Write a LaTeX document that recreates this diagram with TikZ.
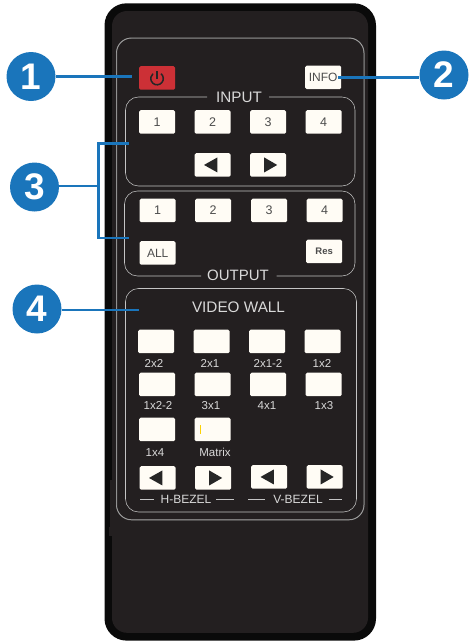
\documentclass[tikz,border=0pt]{standalone}
\usepackage{fontspec}
\setmainfont{Liberation Sans}
\definecolor{bodyin}{HTML}{231F20}
\definecolor{bodyout}{HTML}{0A0A0A}
\definecolor{badge}{HTML}{1A75BB}
\definecolor{btn}{HTML}{FFFCF5}
\definecolor{pwr}{HTML}{CC3036}
\definecolor{frame}{HTML}{C4C4C4}
\tikzset{
  btnbox/.style={fill=btn,rounded corners=1.5pt,minimum width=36pt,minimum height=23.5pt,inner sep=0pt,text=black!70,font=\fontsize{12.5}{13}\selectfont,anchor=north west},
  silk/.style={text=white!85!black,inner sep=0pt,font=\fontsize{11.5}{12}\selectfont},
  panel/.style={draw=frame,line width=0.55pt,rounded corners=13pt},
  badgec/.style={circle,fill=badge,minimum size=49pt,inner sep=0pt,text=white,font=\fontsize{37}{37}\selectfont\bfseries},
  lead/.style={draw=badge,line width=2.6pt},
  tri/.style={fill=black!85,draw=none}
}
\newcommand{\arrowL}[3]{\node[btnbox] (#1) at (#2,#3) {};
  \fill[tri] ([xshift=-8.7pt]#1.center) -- ([xshift=4.7pt,yshift=7.5pt]#1.center) -- ([xshift=4.7pt,yshift=-7.5pt]#1.center) -- cycle;}
\newcommand{\arrowR}[3]{\node[btnbox] (#1) at (#2,#3) {};
  \fill[tri] ([xshift=9pt]#1.center) -- ([xshift=-4pt,yshift=7.5pt]#1.center) -- ([xshift=-4pt,yshift=-7.5pt]#1.center) -- cycle;}
\begin{document}
\begin{tikzpicture}[x=1pt,y=-1pt]
\useasboundingbox (0,0) rectangle (469,643);
% body
\fill[bodyout,rounded corners=22pt] (104.5,3.3) rectangle (376,640.6);
\fill[bodyin,rounded corners=15pt] (112,11) rectangle (368,632.8);
\fill[bodyin] (110,480) rectangle (113,536);
\fill[bodyin] (108.5,527) rectangle (113,536);
% outer frame
\draw[black!48,line width=1pt,rounded corners=15pt] (116.5,38) rectangle (364,519.8);
\draw[frame!85!black,line width=0.4pt,rounded corners=15pt] (116.5,38) rectangle (364,519.8);
% input panel
\node[silk,font=\fontsize{15.2}{16}\selectfont] (intitle) at (239,97) {INPUT};
\draw[panel] (207,97) -- (125.5,97) -- (125.5,186) -- (355,186) -- (355,97) -- (269,97);
% output panel
\node[silk,font=\fontsize{15}{16}\selectfont] (outtitle) at (238,275) {OUTPUT};
\draw[panel] (201,276) -- (124.5,276) -- (124.5,191) -- (355,191) -- (355,276) -- (276.5,276);
% video wall panel
\draw[panel] (125.5,288.5) rectangle (356.5,512);
\node[silk,font=\fontsize{15.3}{16}\selectfont] (vwtitle) at (238.5,307) {VIDEO WALL};
% power and info
\node[btnbox,fill=pwr] (power) at (139,66) {};
\draw[black!85,line width=1.5pt] (157,78.5) ++(-50:6.3) arc[start angle=-50,end angle=230,radius=6.3];
\draw[black!85,line width=1.5pt] (157,71) -- (157,78.5);
\node[btnbox,font=\fontsize{12}{13}\selectfont] (info) at (305,65.5) {INFO};
% input buttons
\node[btnbox] (i1) at (139,110) {1};
\node[btnbox] (i2) at (194.5,110) {2};
\node[btnbox] (i3) at (250,110) {3};
\node[btnbox] (i4) at (305.5,110) {4};
\arrowL{il}{194.5}{153}
\arrowR{ir}{250}{153}
% output buttons
\node[btnbox] (o1) at (139.5,198.5) {1};
\node[btnbox] (o2) at (195,198.5) {2};
\node[btnbox] (o3) at (251,198.5) {3};
\node[btnbox] (o4) at (306.5,198.5) {4};
\node[btnbox,font=\fontsize{12}{13}\selectfont] (oall) at (139.5,241) {ALL};
\node[btnbox,font=\fontsize{9.5}{10}\selectfont\bfseries] (ores) at (306,239.5) {Res};
% video wall buttons
\foreach \n/\x/\y/\t/\lx/\ly in {a/138/329.5/2x2/154/363.5, b/193.5/329.5/2x1/210/363.5, c/249/329.5/2x1-2/268/363.5, d/304.5/329.5/1x2/322/363.5,
  e/139/372.5/1x2-2/158/405.5, f/194.5/372.5/3x1/211/405.5, g/250/372.5/4x1/267/405.5, h/305.5/372.5/1x3/324/405.5,
  i/139/417.5/1x4/155/452.5, j/194.5/417.5/Matrix/215/452.5}{
  \node[btnbox] (v\n) at (\x,\y) {};
  \node[silk] (l\n) at (\lx,\ly) {\t};
}
\draw[yellow!70!orange,line width=0.3pt] (200.5,425) -- (200.5,434);
\arrowL{hl}{139.5}{466}
\arrowR{hr}{195}{466}
\arrowL{vl}{251}{465}
\arrowR{vr}{306.5}{465}
% bezel
\node[silk,font=\fontsize{12}{13}\selectfont] (hb) at (186,499) {H-BEZEL};
\node[silk,font=\fontsize{12}{13}\selectfont] (vb) at (298,499) {V-BEZEL};
\draw[frame,line width=0.6pt] (140,499) -- (153.5,499) (216,499) -- (234,499) (248,499) -- (265,499) (329,499) -- (342,499);
% badges
\node[badgec] (b1) at (31,76.5) {1};
\node[badgec] (b2) at (444,75) {2};
\node[badgec] (b3) at (34.5,187) {3};
\node[badgec] (b4) at (37,309) {4};
\coordinate (e1) at (132,76.5);
\coordinate (e2) at (338,77.5);
\coordinate (e3a) at (129,143.5);
\coordinate (e3b) at (129,238);
\coordinate (e3m) at (98.5,186);
\coordinate (e4) at (138.5,310);
\draw[lead] (b1.east |- e1) -- (e1);
\draw[lead] (e2) -- (b2.west |- e2);
\draw[lead] (b3.east |- e3m) -- (e3m);
\draw[lead] (e3a) -- (98.5,143.5) -- (98.5,238) -- (e3b);
\draw[lead] (b4.east |- e4) -- (e4);
\end{tikzpicture}
\end{document}
